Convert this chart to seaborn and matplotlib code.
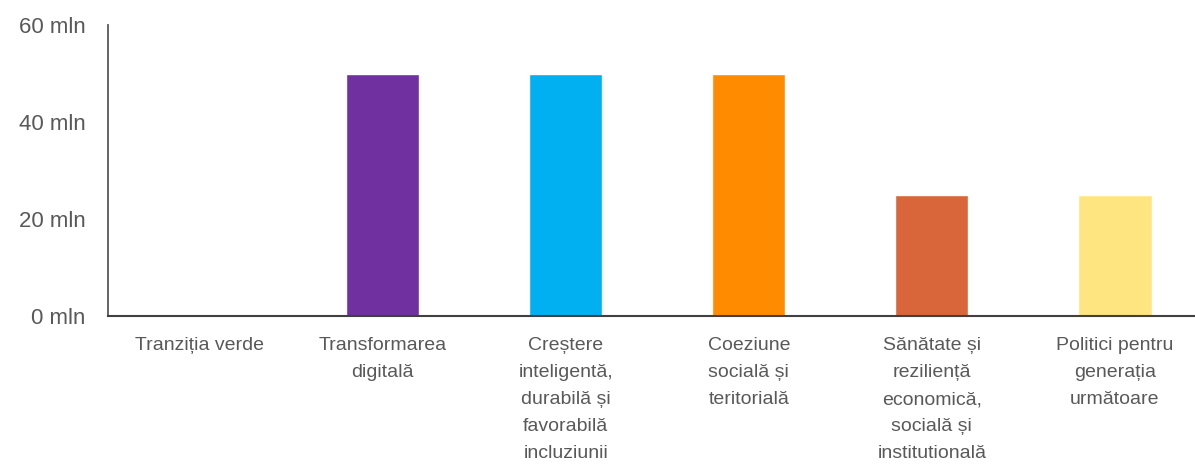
import matplotlib
matplotlib.use("Agg")
import matplotlib.pyplot as plt
import seaborn as sns
import pandas as pd

categories = [
    "Tranziția verde",
    "Transformarea\ndigitală",
    "Creștere\ninteligentă,\ndurabilă și\nfavorabilă\nincluziunii",
    "Coeziune\nsocială și\nteritorială",
    "Sănătate și\nreziliență\neconomică,\nsocială și\ninstitutională",
    "Politici pentru\ngenerația\nurmătoare",
]
values_mln = [0, 50, 50, 50, 25, 25]
colors = ["#00A651", "#7030A0", "#00B0F0", "#FF8C00", "#D9653B", "#FFE57F"]
y_ticks = [0, 20, 40, 60]
y_tick_labels = [f"{v} mln" for v in y_ticks]

sns.set_theme(style="white")
plt.rcParams["font.family"] = ["Liberation Sans", "DejaVu Sans"]

df = pd.DataFrame({"category": categories, "value": values_mln})

fig = plt.figure(figsize=(11.95, 4.71), dpi=100)
ax = fig.add_axes([108 / 1195, 155 / 471, 1098.5 / 1195, 291 / 471])

sns.barplot(data=df, x="category", y="value", hue="category", palette=colors,
            width=0.4, legend=False, ax=ax, saturation=1)

ax.set_xlim(-0.5, 5.5)
ax.set_ylim(0, 60)
ax.set_yticks(y_ticks)
ax.set_yticklabels(y_tick_labels)
ax.set_xlabel("")
ax.set_ylabel("")

for s in ["top", "right"]:
    ax.spines[s].set_visible(False)
ax.spines["left"].set_color("#595959")
ax.spines["left"].set_linewidth(1.3)
ax.spines["bottom"].set_color("#404040")
ax.spines["bottom"].set_linewidth(1.5)

ax.tick_params(axis="y", length=0, pad=16, labelsize=16, labelcolor="#595959")
ax.tick_params(axis="x", length=0, pad=15, labelsize=14, labelcolor="#595959")
for lbl in ax.get_xticklabels():
    lbl.set_linespacing(1.78)
    lbl.set_horizontalalignment("center")

fig.savefig("out.png", dpi=100)
